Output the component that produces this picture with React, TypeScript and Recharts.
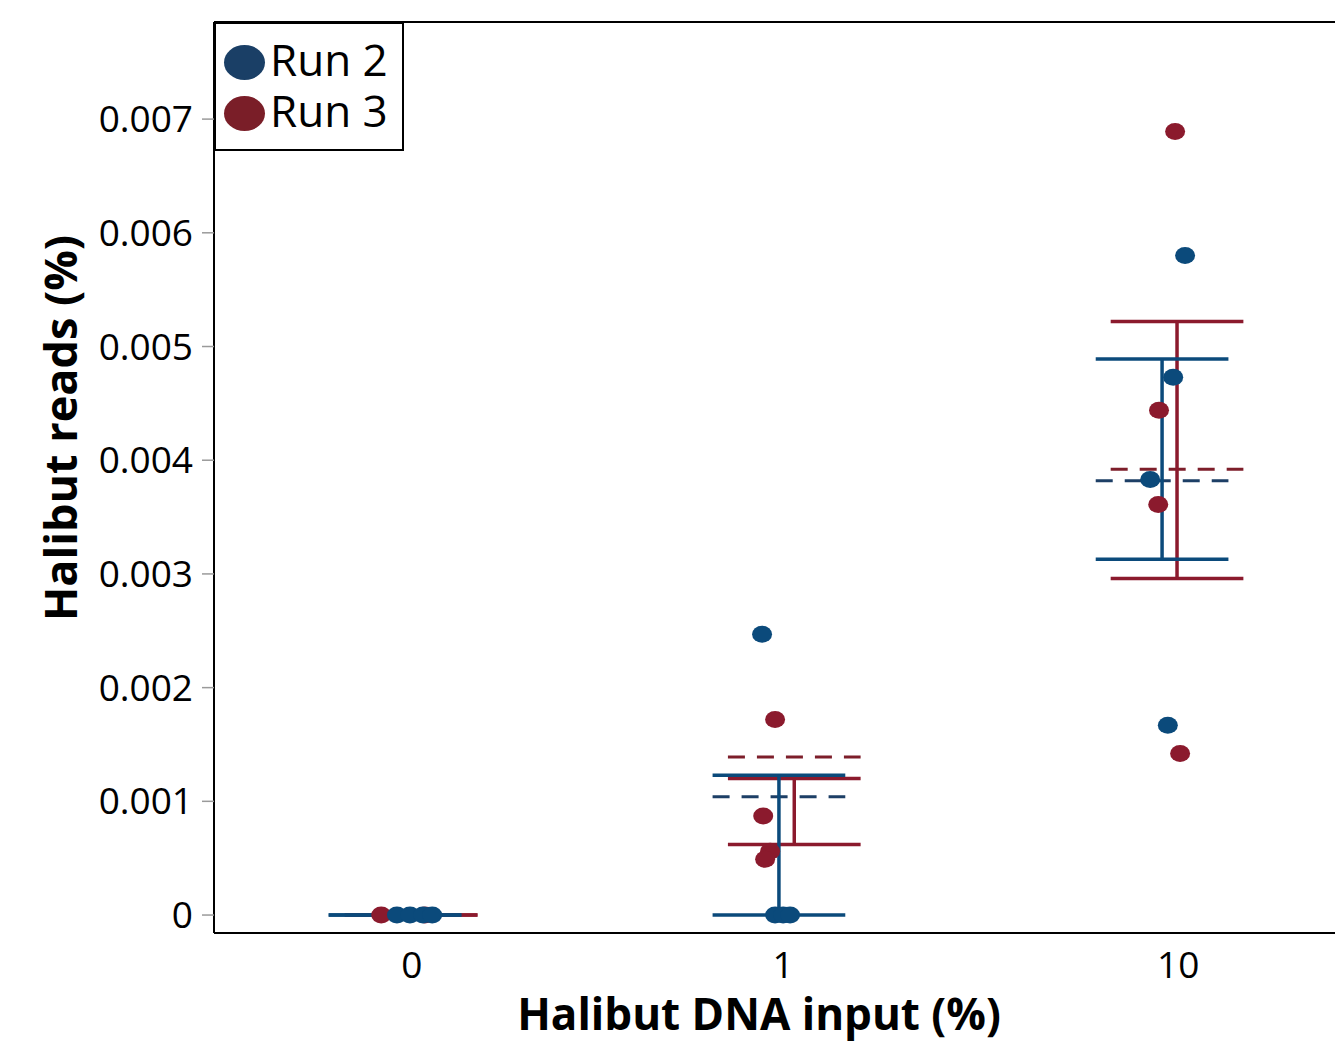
import {
  ComposedChart,
  ReferenceLine,
  Scatter,
  XAxis,
  YAxis,
} from 'recharts';

// category labels on the x axis and where they sit on the position scale
const categories = ['0', '1', '10'];
const categoryTicks = [0.023, 0.991, 2.021];
const yTicks = [0, 0.001, 0.002, 0.003, 0.004, 0.005, 0.006, 0.007];

// individual replicates, x = category position + jitter
const run2Points = [
  { x: -0.016, y: 0 },
  { x: 0.018, y: 0 },
  { x: 0.052, y: 0 },
  { x: 0.076, y: 0 },
  { x: 0.936, y: 0.00247 },
  { x: 0.97, y: 0 },
  { x: 0.991, y: 0 },
  { x: 1.009, y: 0 },
  { x: 2.039, y: 0.0058 },
  { x: 2.008, y: 0.00473 },
  { x: 1.948, y: 0.00383 },
  { x: 1.994, y: 0.00167 },
];

const run3Points = [
  { x: -0.057, y: 0 },
  { x: 0.057, y: 0 },
  { x: 0.97, y: 0.00172 },
  { x: 0.939, y: 0.00087 },
  { x: 0.957, y: 0.00056 },
  { x: 0.944, y: 0.00049 },
  { x: 2.013, y: 0.00689 },
  { x: 1.971, y: 0.00444 },
  { x: 1.969, y: 0.00361 },
  { x: 2.026, y: 0.00142 },
];

// error bars: center position, low / high whisker, dashed mean line
const run2Bars = [
  { center: -0.021, low: 0, high: 0, mean: 0 },
  { center: 0.98, low: 0, high: 0.00123, mean: 0.00104 },
  { center: 1.979, low: 0.00313, high: 0.00489, mean: 0.00382 },
];

const run3Bars = [
  { center: 0.021, low: 0, high: 0, mean: 0 },
  { center: 1.02, low: 0.00062, high: 0.0012, mean: 0.00139 },
  { center: 2.018, low: 0.00296, high: 0.00522, mean: 0.00392 },
];

const CAP = 0.173;
const Y_MIN = -0.000158;
const Y_MAX = 0.007854;

const BLUE = '#0b4a7b';
const RED = '#8b1a2d';
const BLUE_DASH = '#1d3f66';
const RED_DASH = '#7d1e2a';
const FONT = '"Open Sans", sans-serif';

const dot = (color: string) => (props: any) => (
  <ellipse cx={props.cx} cy={props.cy} rx={10} ry={8.5} fill={color} />
);

function barLines(bars: typeof run2Bars, color: string, dashColor: string, key: string) {
  const out: any[] = [];
  bars.forEach((b, i) => {
    const seg = (y: number) => [
      { x: b.center - CAP, y },
      { x: b.center + CAP, y },
    ];
    if (b.high > b.low) {
      out.push(
        <ReferenceLine
          key={`${key}-m${i}`}
          segment={seg(b.mean)}
          stroke={dashColor}
          strokeWidth={3}
          strokeDasharray="17 12"
        />
      );
    }
    out.push(
      <ReferenceLine key={`${key}-l${i}`} segment={seg(b.low)} stroke={color} strokeWidth={3.5} />,
      <ReferenceLine key={`${key}-h${i}`} segment={seg(b.high)} stroke={color} strokeWidth={3.5} />,
      <ReferenceLine
        key={`${key}-v${i}`}
        segment={[
          { x: b.center, y: b.low },
          { x: b.center, y: b.high },
        ]}
        stroke={color}
        strokeWidth={3.5}
      />
    );
  });
  return out;
}

export default function App() {
  return (
    <div
      style={{
        position: 'absolute',
        left: 0,
        top: 0,
        width: 1335,
        height: 1042,
        overflow: 'hidden',
        background: '#fff',
        fontFamily: FONT,
      }}
    >
      <ComposedChart
        width={1350}
        height={1042}
        margin={{ top: 22, right: 0, bottom: 0, left: 0 }}
      >
        <XAxis
          type="number"
          dataKey="x"
          domain={[-0.493, 2.469]}
          allowDataOverflow
          ticks={categoryTicks}
          tickFormatter={(_v: number, i: number) => categories[i] ?? ''}
          tickLine={false}
          tickMargin={13}
          axisLine={{ stroke: '#000', strokeWidth: 2 }}
          tick={{ fontSize: 37, fill: '#000', fontFamily: FONT }}
          height={109}
          label={{
            content: () => (
              <text
                x={759}
                y={1030}
                textAnchor="middle"
                fontSize={44}
                fontWeight="bold"
                fontFamily={FONT}
                fill="#000"
              >
                Halibut DNA input (%)
              </text>
            ),
          }}
        />
        <YAxis
          type="number"
          dataKey="y"
          domain={[Y_MIN, Y_MAX]}
          allowDataOverflow
          ticks={yTicks}
          tickFormatter={(v: number) => (v === 0 ? '0' : v.toFixed(3))}
          width={214}
          tickSize={12}
          tickMargin={9}
          tickLine={{ stroke: '#9a9a9a', strokeWidth: 1.5 }}
          axisLine={{ stroke: '#000', strokeWidth: 2 }}
          tick={{ fontSize: 37, fill: '#000', fontFamily: FONT }}
          label={{
            content: () => (
              <text
                x={77}
                y={428}
                transform="rotate(-90 77 428)"
                textAnchor="middle"
                fontSize={45}
                fontWeight="bold"
                fontFamily={FONT}
                fill="#000"
              >
                Halibut reads (%)
              </text>
            ),
          }}
        />
        <ReferenceLine y={Y_MAX} stroke="#000" strokeWidth={2} />
        {barLines(run3Bars, RED, RED_DASH, 'r3')}
        {barLines(run2Bars, BLUE, BLUE_DASH, 'r2')}
        <Scatter
          name="Run 3"
          data={run3Points}
          shape={dot(RED)}
          isAnimationActive={false}
        />
        <Scatter
          name="Run 2"
          data={run2Points}
          shape={dot(BLUE)}
          isAnimationActive={false}
        />
      </ComposedChart>
      <div
        style={{
          position: 'absolute',
          left: 214,
          top: 22,
          width: 186,
          height: 125,
          border: '2px solid #000',
          background: '#fff',
          boxSizing: 'content-box',
        }}
      >
        {[
          { name: 'Run 2', color: '#1a3f66' },
          { name: 'Run 3', color: '#7a1e28' },
        ].map((item, i) => (
          <div
            key={item.name}
            style={{
              position: 'absolute',
              left: 8,
              top: 18 + i * 51,
              display: 'flex',
              alignItems: 'center',
              height: 40,
            }}
          >
            <span
              style={{
                display: 'inline-block',
                width: 41,
                height: 35,
                borderRadius: '50%',
                background: item.color,
                marginRight: 5,
              }}
            />
            <span
              style={{
                fontSize: 44,
                lineHeight: '40px',
                color: '#000',
                position: 'relative',
                top: -3,
              }}
            >
              {item.name}
            </span>
          </div>
        ))}
      </div>
    </div>
  );
}
